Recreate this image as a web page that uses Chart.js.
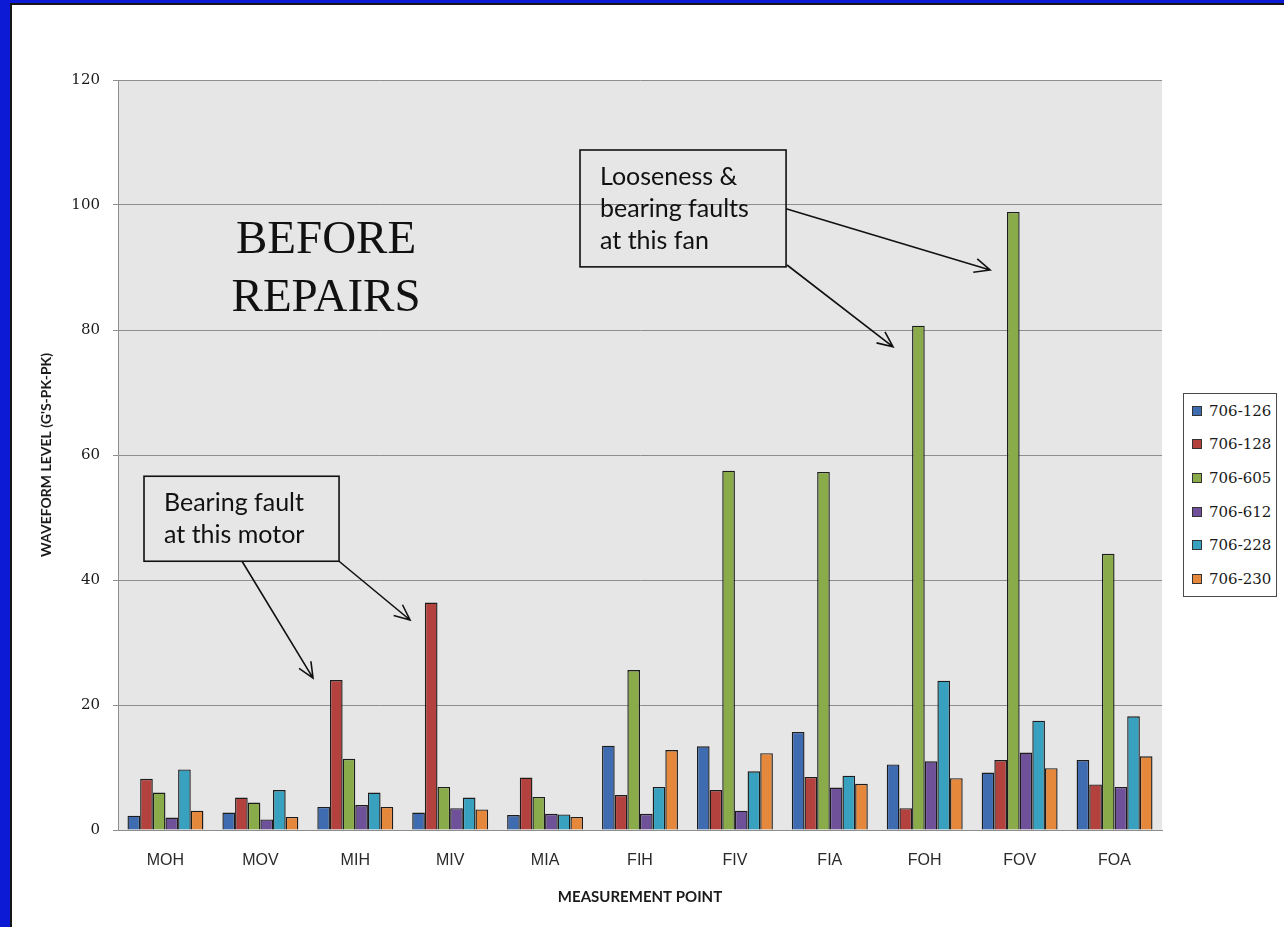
<!DOCTYPE html>
<html>
<head>
<meta charset="utf-8">
<title>Waveform level - before repairs</title>
<script src="https://cdn.jsdelivr.net/npm/chart.js@4.4.1/dist/chart.umd.min.js"></script>
<style>
  html, body { margin: 0; padding: 0; width: 1284px; height: 927px; overflow: hidden; background: #0c1ad6; }
  #frame { position: absolute; left: 10px; top: 3px; right: 0; bottom: 0; background: #fff;
           border-left: 2px solid #161616; border-top: 2px solid #161616; }
  #chartBox { position: absolute; left: 0; top: 0; width: 1284px; height: 927px; }
  #legend { position: absolute; left: 1183px; top: 393px; width: 92px; height: 202px;
            border: 1px solid #4a4a4a; background: #fff; }
  #legend .row { height: 33.6px; display: flex; align-items: center; padding-left: 8px;
                 font: 15px "DejaVu Serif", serif; color: #1a1a1a; }
  #legend .sw { width: 8px; height: 8px; border: 1px solid #333; margin-right: 7px; }
</style>
</head>
<body>
<div id="frame"></div>
<div id="chartBox"><canvas id="chartWaveform" width="1284" height="927"></canvas></div>
<div id="legend"></div>

<script>
/* ---------- data ---------- */
const points = ["MOH", "MOV", "MIH", "MIV", "MIA", "FIH", "FIV", "FIA", "FOH", "FOV", "FOA"];
const seriesNames = ["706-126", "706-128", "706-605", "706-612", "706-228", "706-230"];

const s706_126 = [2.3, 2.8, 3.7, 2.8, 2.4, 13.5, 13.4, 15.7, 10.5, 9.2, 11.2];
const s706_128 = [8.2, 5.2, 24.0, 36.4, 8.4, 5.6, 6.4, 8.5, 3.5, 11.2, 7.3];
const s706_605 = [6.0, 4.4, 11.4, 6.9, 5.3, 25.6, 57.5, 57.3, 80.7, 98.9, 44.2];
const s706_612 = [2.0, 1.7, 4.0, 3.5, 2.6, 2.6, 3.1, 6.8, 11.0, 12.4, 6.9];
const s706_228 = [9.7, 6.4, 6.0, 5.2, 2.5, 6.9, 9.4, 8.7, 23.9, 17.5, 18.2];
const s706_230 = [3.1, 2.1, 3.7, 3.3, 2.1, 12.8, 12.3, 7.4, 8.3, 9.9, 11.8];

const yTicks = [0, 20, 40, 60, 80, 100, 120];

/* ---------- styling ---------- */
const seriesValues = [s706_126, s706_128, s706_605, s706_612, s706_228, s706_230];
const seriesColors = ["#3f6bb0", "#b3413d", "#8aab4a", "#6f519a", "#38a1bf", "#e6883b"];
const gridColor = "#8e8e8e";

// annotations placed in chart units (x = category index, y = waveform level)
const notes = [
  { lines: ["Bearing fault", "at this motor"], box: [-0.226, 56.6, 1.829, 43.0],
    arrows: [[0.807, 43.0, 1.555, 24.3], [1.829, 43.0, 2.577, 33.6]] },
  { lines: ["Looseness &", "bearing faults", "at this fan"], box: [4.368, 108.8, 6.539, 90.1],
    arrows: [[6.539, 99.4, 8.689, 89.6], [6.549, 90.4, 7.666, 77.3]] }
];
const stamp = { lines: ["BEFORE", "REPAIRS"], x: 1.692, y: [92.3, 83.0] };

/* ---------- legend (html) ---------- */
const legendEl = document.getElementById("legend");
seriesNames.forEach(function (name, i) {
  const row = document.createElement("div");
  row.className = "row";
  const sw = document.createElement("span");
  sw.className = "sw";
  sw.style.background = seriesColors[i];
  row.appendChild(sw);
  row.appendChild(document.createTextNode(name));
  legendEl.appendChild(row);
});

/* ---------- plugins ---------- */
const plotBackground = {
  id: "plotBackground",
  beforeDraw(chart) {
    const { ctx, chartArea } = chart;
    ctx.save();
    ctx.fillStyle = "#e6e6e6";
    ctx.fillRect(chartArea.left, chartArea.top, chartArea.right - chartArea.left, chartArea.bottom - chartArea.top);
    ctx.restore();
  }
};

function drawArrow(ctx, x1, y1, x2, y2) {
  const ang = Math.atan2(y2 - y1, x2 - x1);
  const head = 17, spread = 0.42;
  ctx.beginPath();
  ctx.moveTo(x1, y1);
  ctx.lineTo(x2, y2);
  ctx.moveTo(x2 - head * Math.cos(ang - spread), y2 - head * Math.sin(ang - spread));
  ctx.lineTo(x2, y2);
  ctx.lineTo(x2 - head * Math.cos(ang + spread), y2 - head * Math.sin(ang + spread));
  ctx.stroke();
}

const callouts = {
  id: "callouts",
  afterDatasetsDraw(chart) {
    const { ctx, scales } = chart;
    const px = (v) => scales.x.getPixelForValue(v);
    const py = (v) => scales.y.getPixelForValue(v);
    ctx.save();
    ctx.strokeStyle = "#111";
    ctx.fillStyle = "#111";
    ctx.lineWidth = 1.6;

    notes.forEach(function (n) {
      const l = px(n.box[0]), t = py(n.box[1]), r = px(n.box[2]), b = py(n.box[3]);
      ctx.strokeRect(l, t, r - l, b - t);
      ctx.font = "25px Lato, sans-serif";
      ctx.textAlign = "left";
      ctx.textBaseline = "alphabetic";
      n.lines.forEach(function (txt, k) {
        ctx.fillText(txt, l + 20, t + 35 + k * 32);
      });
      n.arrows.forEach(function (a) {
        drawArrow(ctx, px(a[0]), py(a[1]), px(a[2]), py(a[3]));
      });
    });

    ctx.font = "47px 'Liberation Serif', serif";
    ctx.textAlign = "center";
    stamp.lines.forEach(function (txt, k) {
      ctx.fillText(txt, px(stamp.x), py(stamp.y[k]));
    });
    ctx.restore();
  }
};

/* ---------- chart ---------- */
const canvas = document.getElementById("chartWaveform");
new Chart(canvas, {
  type: "bar",
  data: {
    labels: points,
    datasets: seriesNames.map(function (name, i) {
      return {
        label: name,
        data: seriesValues[i],
        backgroundColor: seriesColors[i],
        borderColor: "#1c1c1c",
        borderWidth: 1.4,
        borderSkipped: "bottom",
        categoryPercentage: 0.8,
        barPercentage: 1.0
      };
    })
  },
  options: {
    responsive: false,
    animation: false,
    devicePixelRatio: 1,
    layout: { padding: { left: 30, top: 80, right: 122, bottom: 17 } },
    plugins: { legend: { display: false }, tooltip: { enabled: false } },
    scales: {
      x: {
        afterFit(scale) { scale.height = 80; },
        grid: { display: false, drawTicks: false, tickLength: 0 },
        border: { display: true, color: gridColor, width: 1 },
        ticks: { padding: 21, color: "#2a2a2a", font: { family: "'Liberation Sans', sans-serif", size: 16 } },
        title: {
          display: true, text: "MEASUREMENT POINT", color: "#1a1a1a",
          font: { family: "Lato, sans-serif", size: 15, weight: "bold" },
          padding: { top: 0, bottom: 4 }
        }
      },
      y: {
        min: 0, max: 120,
        afterFit(scale) { scale.width = 88; },
        afterBuildTicks(scale) { scale.ticks = yTicks.map((v) => ({ value: v })); },
        grid: { color: gridColor, lineWidth: 1, tickLength: 5, drawTicks: true },
        border: { display: true, color: gridColor, width: 1 },
        ticks: { padding: 13, color: "#1a1a1a", font: { family: "'DejaVu Serif', serif", size: 15 } },
        title: {
          display: true, text: "WAVEFORM LEVEL (G'S-PK-PK)", color: "#1a1a1a",
          font: { family: "Lato, sans-serif", size: 14, weight: "bold" },
          padding: { top: 8, bottom: 0 }
        }
      }
    }
  },
  plugins: [plotBackground, callouts]
});
</script>
</body>
</html>
